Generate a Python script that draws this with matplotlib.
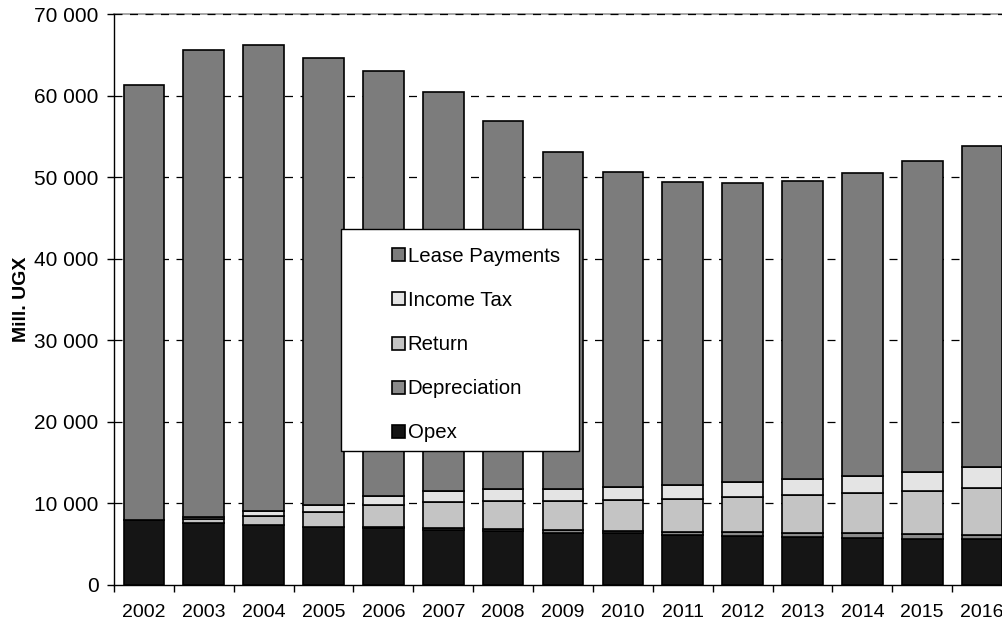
import matplotlib.pyplot as plt
from matplotlib.patches import Rectangle
from matplotlib.ticker import FuncFormatter
import numpy as np

plt.rcParams['font.family'] = ['Liberation Sans', 'DejaVu Sans']

years = [str(y) for y in range(2002, 2017)]

# Mill. UGX per cost component
opex = [8000, 7550, 7300, 7060, 6980, 6730, 6650, 6400, 6330, 6120, 6000, 5920, 5710, 5630, 5590]
depreciation = [0, 50, 60, 80, 100, 210, 210, 330, 320, 380, 490, 490, 620, 610, 570]
ret = [0, 440, 1140, 1860, 2680, 3260, 3380, 3600, 3750, 4050, 4330, 4610, 4940, 5310, 5720]
income_tax = [0, 290, 600, 840, 1140, 1350, 1470, 1470, 1640, 1740, 1790, 1960, 2120, 2330, 2530]
totals = [61300, 65600, 66200, 64600, 63000, 60400, 56900, 53100, 50600, 49400,
          49300, 49500, 50500, 52000, 53800]
lease = [t - o - d - r - i for t, o, d, r, i in zip(totals, opex, depreciation, ret, income_tax)]

series = [
    ('Opex', opex, '#151515'),
    ('Depreciation', depreciation, '#8a8a8a'),
    ('Return', ret, '#c4c4c4'),
    ('Income Tax', income_tax, '#e4e4e4'),
    ('Lease Payments', lease, '#7c7c7c'),
]

fig = plt.figure(figsize=(10.03, 6.32), dpi=100)
ax = fig.add_axes([114 / 1003, 47 / 632, 898 / 1003, 571 / 632])

x = np.arange(len(years))
bottom = np.zeros(len(years))
handles = []
for name, vals, col in series:
    b = ax.bar(x, vals, 0.68, bottom=bottom, color=col, edgecolor='black',
               linewidth=1.2, label=name, zorder=3)
    handles.append(b)
    bottom += np.array(vals)

ax.set_xlim(-0.5, len(years) - 0.5)
ax.set_ylim(0, 70000)
ax.set_yticks(range(0, 70001, 10000))
ax.yaxis.set_major_formatter(FuncFormatter(lambda v, p: f'{int(v):,}'.replace(',', ' ')))
for yv in range(10000, 70001, 10000):
    ax.axhline(yv, color='black', lw=0.9, ls=(0, (6.4, 6.0)), zorder=1, clip_on=False)

ax.set_xticks(x)
ax.set_xticklabels(years)
ax.set_xticks(np.arange(-0.5, len(years), 1), minor=True)
ax.tick_params(axis='x', which='major', length=0, pad=14, labelsize=14)
ax.tick_params(axis='x', which='minor', length=5, width=1, direction='out')
ax.tick_params(axis='y', length=5, width=1, direction='out', pad=6, labelsize=15)

ax.spines['right'].set_visible(False)
ax.spines['top'].set_linewidth(1.3)
ax.spines['top'].set_color('#a0a0a0')
ax.spines['top'].set_zorder(0.5)
ax.spines['left'].set_linewidth(1)
ax.spines['bottom'].set_linewidth(1)

ax.set_ylabel('Mill. UGX', fontsize=14, fontweight='bold', labelpad=3)

# legend box drawn separately so its padding can be set freely
ax.add_patch(Rectangle((228 / 900, 134 / 571), 238 / 900, 222 / 571,
                       transform=ax.transAxes, facecolor='white',
                       edgecolor='black', lw=1, zorder=5))
leg = ax.legend(handles[::-1], [s[0] for s in series][::-1], loc='upper left',
                bbox_to_anchor=(279 / 900, 338 / 571), frameon=False, fontsize=14.7,
                borderpad=0, borderaxespad=0, handlelength=0.6, handleheight=0.6,
                handletextpad=0.15, labelspacing=1.23)
leg.set_zorder(6)

fig.savefig('out.png', dpi=100)
